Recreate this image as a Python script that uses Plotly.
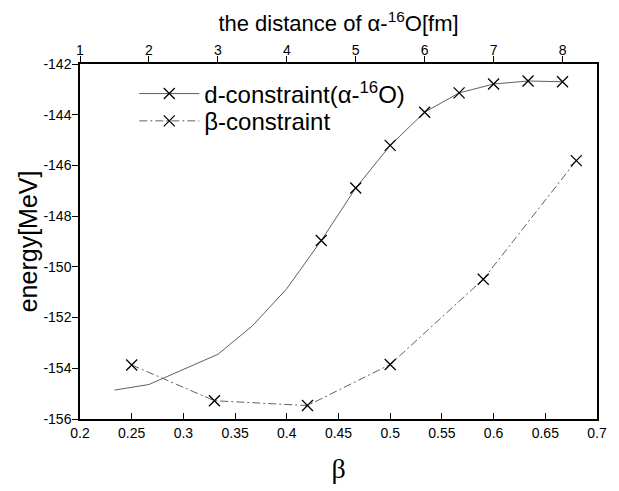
import plotly.graph_objects as go

# d-constraint: distance of alpha-16O [fm] (top axis) and energy [MeV]
d_dist_line = [1.5, 2.0, 3.0, 3.5, 4.0, 4.5]
d_energy_line = [-154.86, -154.64, -153.45, -152.33, -150.86, -148.96]
d_dist_mark = [4.5, 5.0, 5.5, 6.0, 6.5, 7.0, 7.5, 8.0]
d_energy_mark = [-148.96, -146.89, -145.21, -143.90, -143.14, -142.79, -142.67, -142.70]

# beta-constraint: beta (bottom axis) and energy [MeV]
b_beta = [0.25, 0.33, 0.42, 0.50, 0.59, 0.68]
b_energy = [-153.87, -155.28, -155.47, -153.85, -150.49, -145.81]

x_ticks = [0.2, 0.25, 0.3, 0.35, 0.4, 0.45, 0.5, 0.55, 0.6, 0.65, 0.7]
x_ticktext = ["0.2", "0.25", "0.3", "0.35", "0.4", "0.45", "0.5", "0.55", "0.6", "0.65", "0.7"]
x2_ticks = [1, 2, 3, 4, 5, 6, 7, 8]
y_ticks = [-156, -154, -152, -150, -148, -146, -144, -142]
y_ticktext = ["-156", "-154", "-152", "-150", "-148", "-146", "-144", "-142"]

LINE_COL = "#606060"
SANS = "Liberation Sans, Arial, sans-serif"
marker_style = dict(symbol="x-thin", size=11, color="black", line=dict(color="black", width=1.3))

fig = go.Figure()
fig.add_trace(go.Scatter(
    x=d_dist_line, y=d_energy_line, xaxis="x2", yaxis="y", mode="lines",
    line=dict(color=LINE_COL, width=1), showlegend=False, hoverinfo="skip"))
fig.add_trace(go.Scatter(
    x=d_dist_mark, y=d_energy_mark, xaxis="x2", yaxis="y", mode="lines+markers",
    name="d-constraint(α-<sup>16</sup>O)", legend="legend",
    line=dict(color=LINE_COL, width=1), marker=marker_style))
fig.add_trace(go.Scatter(
    x=b_beta, y=b_energy, xaxis="x", yaxis="y", mode="lines+markers",
    name="β-constraint", legend="legend2",
    line=dict(color=LINE_COL, width=1, dash="8px,3px,2px,3px"), marker=marker_style))

axis_common = dict(showgrid=False, zeroline=False, showline=True, linecolor="black",
                   linewidth=1.5, tickcolor="black", tickwidth=1.2,
                   tickfont=dict(family=SANS, size=14, color="black"))

legend_common = dict(xanchor="left", yanchor="top", bgcolor="rgba(0,0,0,0)",
                     font=dict(family=SANS, size=24, color="black"), itemwidth=60)

fig.update_layout(
    width=619, height=491,
    margin=dict(l=80, r=14, t=64, b=61),
    paper_bgcolor="white", plot_bgcolor="white",
    xaxis=dict(range=[0.2, 0.7], tickvals=x_ticks, ticktext=x_ticktext, ticks="inside",
               ticklen=6, mirror=False,
               title=dict(text="β", font=dict(family="Liberation Serif, serif", size=28, color="black"),
                          standoff=19),
               **axis_common),
    xaxis2=dict(range=[1, 8.5], tickvals=x2_ticks, ticks="outside", ticklen=6,
                overlaying="x", side="top", anchor="y", ticklabelstandoff=-4,
                title=dict(text="the distance of α-<sup>16</sup>O[fm]",
                           font=dict(family=SANS, size=22, color="black"), standoff=4),
                **axis_common),
    yaxis=dict(range=[-156, -142], tickvals=y_ticks, ticktext=y_ticktext, ticks="outside",
               ticklen=6, mirror=True, ticklabelstandoff=-2, **axis_common),
    yaxis2=dict(range=[-156, -142], tickvals=y_ticks, ticks="inside", ticklen=6,
                overlaying="y", side="right", anchor="x", showticklabels=False,
                showgrid=False, zeroline=False, showline=False, tickcolor="black", tickwidth=1.2),
    legend=dict(x=0.105, y=0.979, **legend_common),
    legend2=dict(x=0.105, y=0.902, **legend_common),
    annotations=[dict(text="energy[MeV]", xref="paper", yref="paper", x=-0.101, y=0.5,
                      xanchor="center", yanchor="middle", textangle=-90, showarrow=False,
                      font=dict(family=SANS, size=25, color="black"))],
)

fig.write_html("out.html")
